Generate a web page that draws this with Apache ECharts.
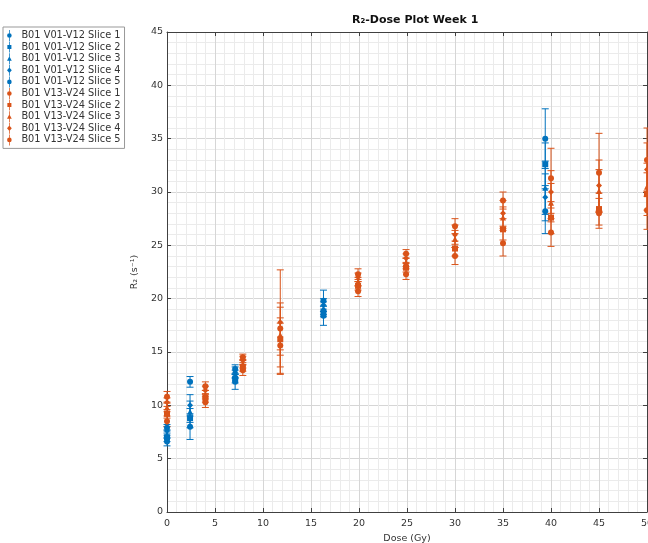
<!DOCTYPE html>
<html><head><meta charset="utf-8">
<script src="https://cdn.jsdelivr.net/npm/echarts/dist/echarts.min.js"></script>
</head><body style="margin:0;background:#fff">
<div id="c" style="width:648px;height:543px"></div>
<script>
// ---- data ----
const blueDoses = [0, 2.4, 7.1, 16.3, 39.4];
const orangeDoses = [0, 4, 7.9, 11.8, 19.9, 24.9, 30, 35, 40, 45, 50];

const blueNames = ['B01 V01-V12 Slice 1','B01 V01-V12 Slice 2','B01 V01-V12 Slice 3','B01 V01-V12 Slice 4','B01 V01-V12 Slice 5'];
const orangeNames = ['B01 V13-V24 Slice 1','B01 V13-V24 Slice 2','B01 V13-V24 Slice 3','B01 V13-V24 Slice 4','B01 V13-V24 Slice 5'];

const blueSlice1 = [6.6, 8.0, 12.2, 18.4, 35.0];
const blueSlice2 = [7.0, 8.8, 12.5, 18.8, 32.6];
const blueSlice3 = [7.3, 9.4, 12.9, 19.1, 30.4];
const blueSlice4 = [7.6, 10.0, 13.1, 19.4, 29.5];
const blueSlice5 = [7.9, 12.2, 13.4, 19.8, 28.2];
const blueErr1 = [0.4, 1.2, 0.7, 0.9, 2.8];
const blueErr2 = [0.4, 0.9, 0.4, 0.5, 2.0];
const blueErr3 = [0.4, 1.0, 0.4, 0.6, 2.5];
const blueErr4 = [0.4, 1.0, 0.5, 0.6, 2.2];
const blueErr5 = [0.3, 0.5, 0.4, 1.0, 2.1];

const orangeSlice1 = [8.5, 10.3, 13.3, 15.6, 20.7, 22.3, 24.0, 25.2, 26.2, 28.0, 28.3];
const orangeSlice2 = [9.2, 10.7, 13.6, 16.2, 21.2, 22.9, 24.7, 26.5, 27.6, 28.4, 29.8];
const orangeSlice3 = [9.8, 11.0, 13.9, 16.6, 21.6, 23.4, 25.6, 27.6, 29.0, 30.1, 30.5];
const orangeSlice4 = [10.3, 11.4, 14.2, 17.8, 22.0, 23.8, 26.0, 28.0, 30.0, 30.6, 32.1];
const orangeSlice5 = [10.8, 11.8, 14.5, 17.2, 22.3, 24.2, 26.8, 29.2, 31.3, 31.8, 33.0];
const orangeErr1 = [0.5, 0.5, 0.5, 2.6, 0.5, 0.5, 0.8, 1.2, 1.3, 1.4, 1.8];
const orangeErr2 = [0.4, 0.4, 0.4, 1.5, 0.4, 0.4, 0.7, 1.0, 1.5, 1.5, 2.0];
const orangeErr3 = [0.4, 0.4, 0.4, 3.0, 0.4, 0.4, 0.8, 1.0, 1.8, 2.0, 2.2];
const orangeErr4 = [0.4, 0.4, 0.4, 4.9, 0.4, 0.4, 0.9, 1.2, 2.0, 2.4, 2.5];
const orangeErr5 = [0.5, 0.4, 0.3, 2.0, 0.5, 0.4, 0.7, 0.8, 2.8, 3.7, 3.0];

const xTicks = [0, 5, 10, 15, 20, 25, 30, 35, 40, 45, 50];
const yTicks = [0, 5, 10, 15, 20, 25, 30, 35, 40, 45];

// ---- styling ----
const BLUE = '#0072BD', ORANGE = '#D95319';
const symbols = ['circle', 'rect', 'triangle', 'diamond', 'circle'];
const iconPaths = [
  'path://M2.6,0H3.4V12H2.6Z M3,3.5A2.5,2.5,0,1,1,3,8.5A2.5,2.5,0,1,1,3,3.5Z',
  'path://M2.6,0H3.4V12H2.6Z M0.8,3.8H5.2V8.2H0.8Z',
  'path://M2.6,0H3.4V12H2.6Z M3,3.3L5.6,8.3H0.4Z',
  'path://M2.6,0H3.4V12H2.6Z M3,3L5.6,6L3,9L0.4,6Z',
  'path://M2.6,0H3.4V12H2.6Z M3,3.5A2.5,2.5,0,1,1,3,8.5A2.5,2.5,0,1,1,3,3.5Z'
];

const blueVals = [blueSlice1, blueSlice2, blueSlice3, blueSlice4, blueSlice5];
const blueErrs = [blueErr1, blueErr2, blueErr3, blueErr4, blueErr5];
const orangeVals = [orangeSlice1, orangeSlice2, orangeSlice3, orangeSlice4, orangeSlice5];
const orangeErrs = [orangeErr1, orangeErr2, orangeErr3, orangeErr4, orangeErr5];

function errRender(params, api) {
  const x = api.value(0), lo = api.value(2), hi = api.value(3);
  const pl = api.coord([x, lo]), ph = api.coord([x, hi]);
  const st = { stroke: api.visual('color'), lineWidth: 1 };
  const w = 3.5;
  return { type: 'group', children: [
    { type: 'line', shape: { x1: pl[0], y1: pl[1], x2: ph[0], y2: ph[1] }, style: st },
    { type: 'line', shape: { x1: pl[0]-w, y1: pl[1], x2: pl[0]+w, y2: pl[1] }, style: st },
    { type: 'line', shape: { x1: ph[0]-w, y1: ph[1], x2: ph[0]+w, y2: ph[1] }, style: st }
  ]};
}

const series = [];
const legendData = [];
function addGroup(names, doses, vals, errs, color) {
  names.forEach((nm, i) => {
    series.push({
      name: nm, type: 'custom', renderItem: errRender, clip: false,
      itemStyle: { color: color }, z: 2,
      data: doses.map((d, j) => [d, vals[i][j], vals[i][j] - errs[i][j], vals[i][j] + errs[i][j]])
    });
    series.push({
      name: nm, type: 'scatter', symbol: symbols[i], symbolSize: 6, clip: false,
      itemStyle: { color: color, opacity: 1 }, z: 3,
      data: doses.map((d, j) => [d, vals[i][j]])
    });
    legendData.push({ name: nm, icon: iconPaths[i], itemStyle: { color: color } });
  });
}
addGroup(blueNames, blueDoses, blueVals, blueErrs, BLUE);
addGroup(orangeNames, orangeDoses, orangeVals, orangeErrs, ORANGE);

const axisCol = '#404040';
const FONT = 'DejaVu Sans';
const chart = echarts.init(document.getElementById('c'), null, { renderer: 'canvas' });
chart.setOption({
  animation: false,
  backgroundColor: '#fff',
  textStyle: { fontFamily: FONT },
  title: {
    text: 'R\u2082-Dose Plot Week 1', left: 347, top: 10,
    textStyle: { fontSize: 11, fontWeight: 'bold', color: '#111', fontFamily: FONT }
  },
  legend: {
    orient: 'vertical', left: 3, top: 27, data: legendData,
    itemWidth: 6, itemHeight: 11, itemGap: 0.6,
    padding: [3, 4, 3, 4], borderColor: '#999', borderWidth: 1, backgroundColor: '#fff',
    textStyle: { fontSize: 9.8, lineHeight: 11, color: '#333', fontFamily: FONT, padding: [0, 0, 0, 4] },
    selectedMode: false
  },
  grid: { left: 167, right: 1, top: 32, bottom: 31, containLabel: false, outerBoundsMode: 'none' },
  xAxis: [{
    type: 'value', min: 0, max: 50, interval: 5,
    name: 'Dose (Gy)', nameLocation: 'middle', nameGap: 21,
    nameTextStyle: { fontSize: 9.5, color: '#333' },
    axisLine: { show: true, onZero: false, lineStyle: { color: axisCol } },
    axisTick: { show: true, inside: true, length: 4, lineStyle: { color: axisCol } },
    axisLabel: { fontSize: 9.5, color: '#333', margin: 7, hideOverlap: false,
      formatter: v => xTicks.indexOf(v) >= 0 ? String(v) : '' },
    splitLine: { show: true, lineStyle: { color: '#d6d6d6', width: 1 } },
    minorTick: { show: false, splitNumber: 5 },
    minorSplitLine: { show: true, lineStyle: { color: '#ebebeb', width: 1 } }
  }, {
    type: 'value', min: 0, max: 50, interval: 5, position: 'top',
    axisLine: { show: true, onZero: false, lineStyle: { color: axisCol } },
    axisTick: { show: true, inside: true, length: 4, lineStyle: { color: axisCol } },
    axisLabel: { show: false }, splitLine: { show: false }
  }],
  yAxis: [{
    type: 'value', min: 0, max: 45, interval: 5,
    name: 'R\u2082 (s\u207B\u00B9)', nameLocation: 'middle', nameGap: 20, nameRotate: 90,
    nameTextStyle: { fontSize: 9.5, color: '#333' },
    axisLine: { show: true, onZero: false, lineStyle: { color: axisCol } },
    axisTick: { show: true, inside: true, length: 4, lineStyle: { color: axisCol } },
    axisLabel: { fontSize: 9.5, color: '#333', margin: 4,
      formatter: v => yTicks.indexOf(v) >= 0 ? String(v) : '' },
    splitLine: { show: true, lineStyle: { color: '#d6d6d6', width: 1 } },
    minorTick: { show: false, splitNumber: 5 },
    minorSplitLine: { show: true, lineStyle: { color: '#ebebeb', width: 1 } }
  }, {
    type: 'value', min: 0, max: 45, interval: 5, position: 'right',
    axisLine: { show: true, onZero: false, lineStyle: { color: axisCol } },
    axisTick: { show: true, inside: true, length: 4, lineStyle: { color: axisCol } },
    axisLabel: { show: false }, splitLine: { show: false }
  }],
  series: series
});
</script>
</body></html>
